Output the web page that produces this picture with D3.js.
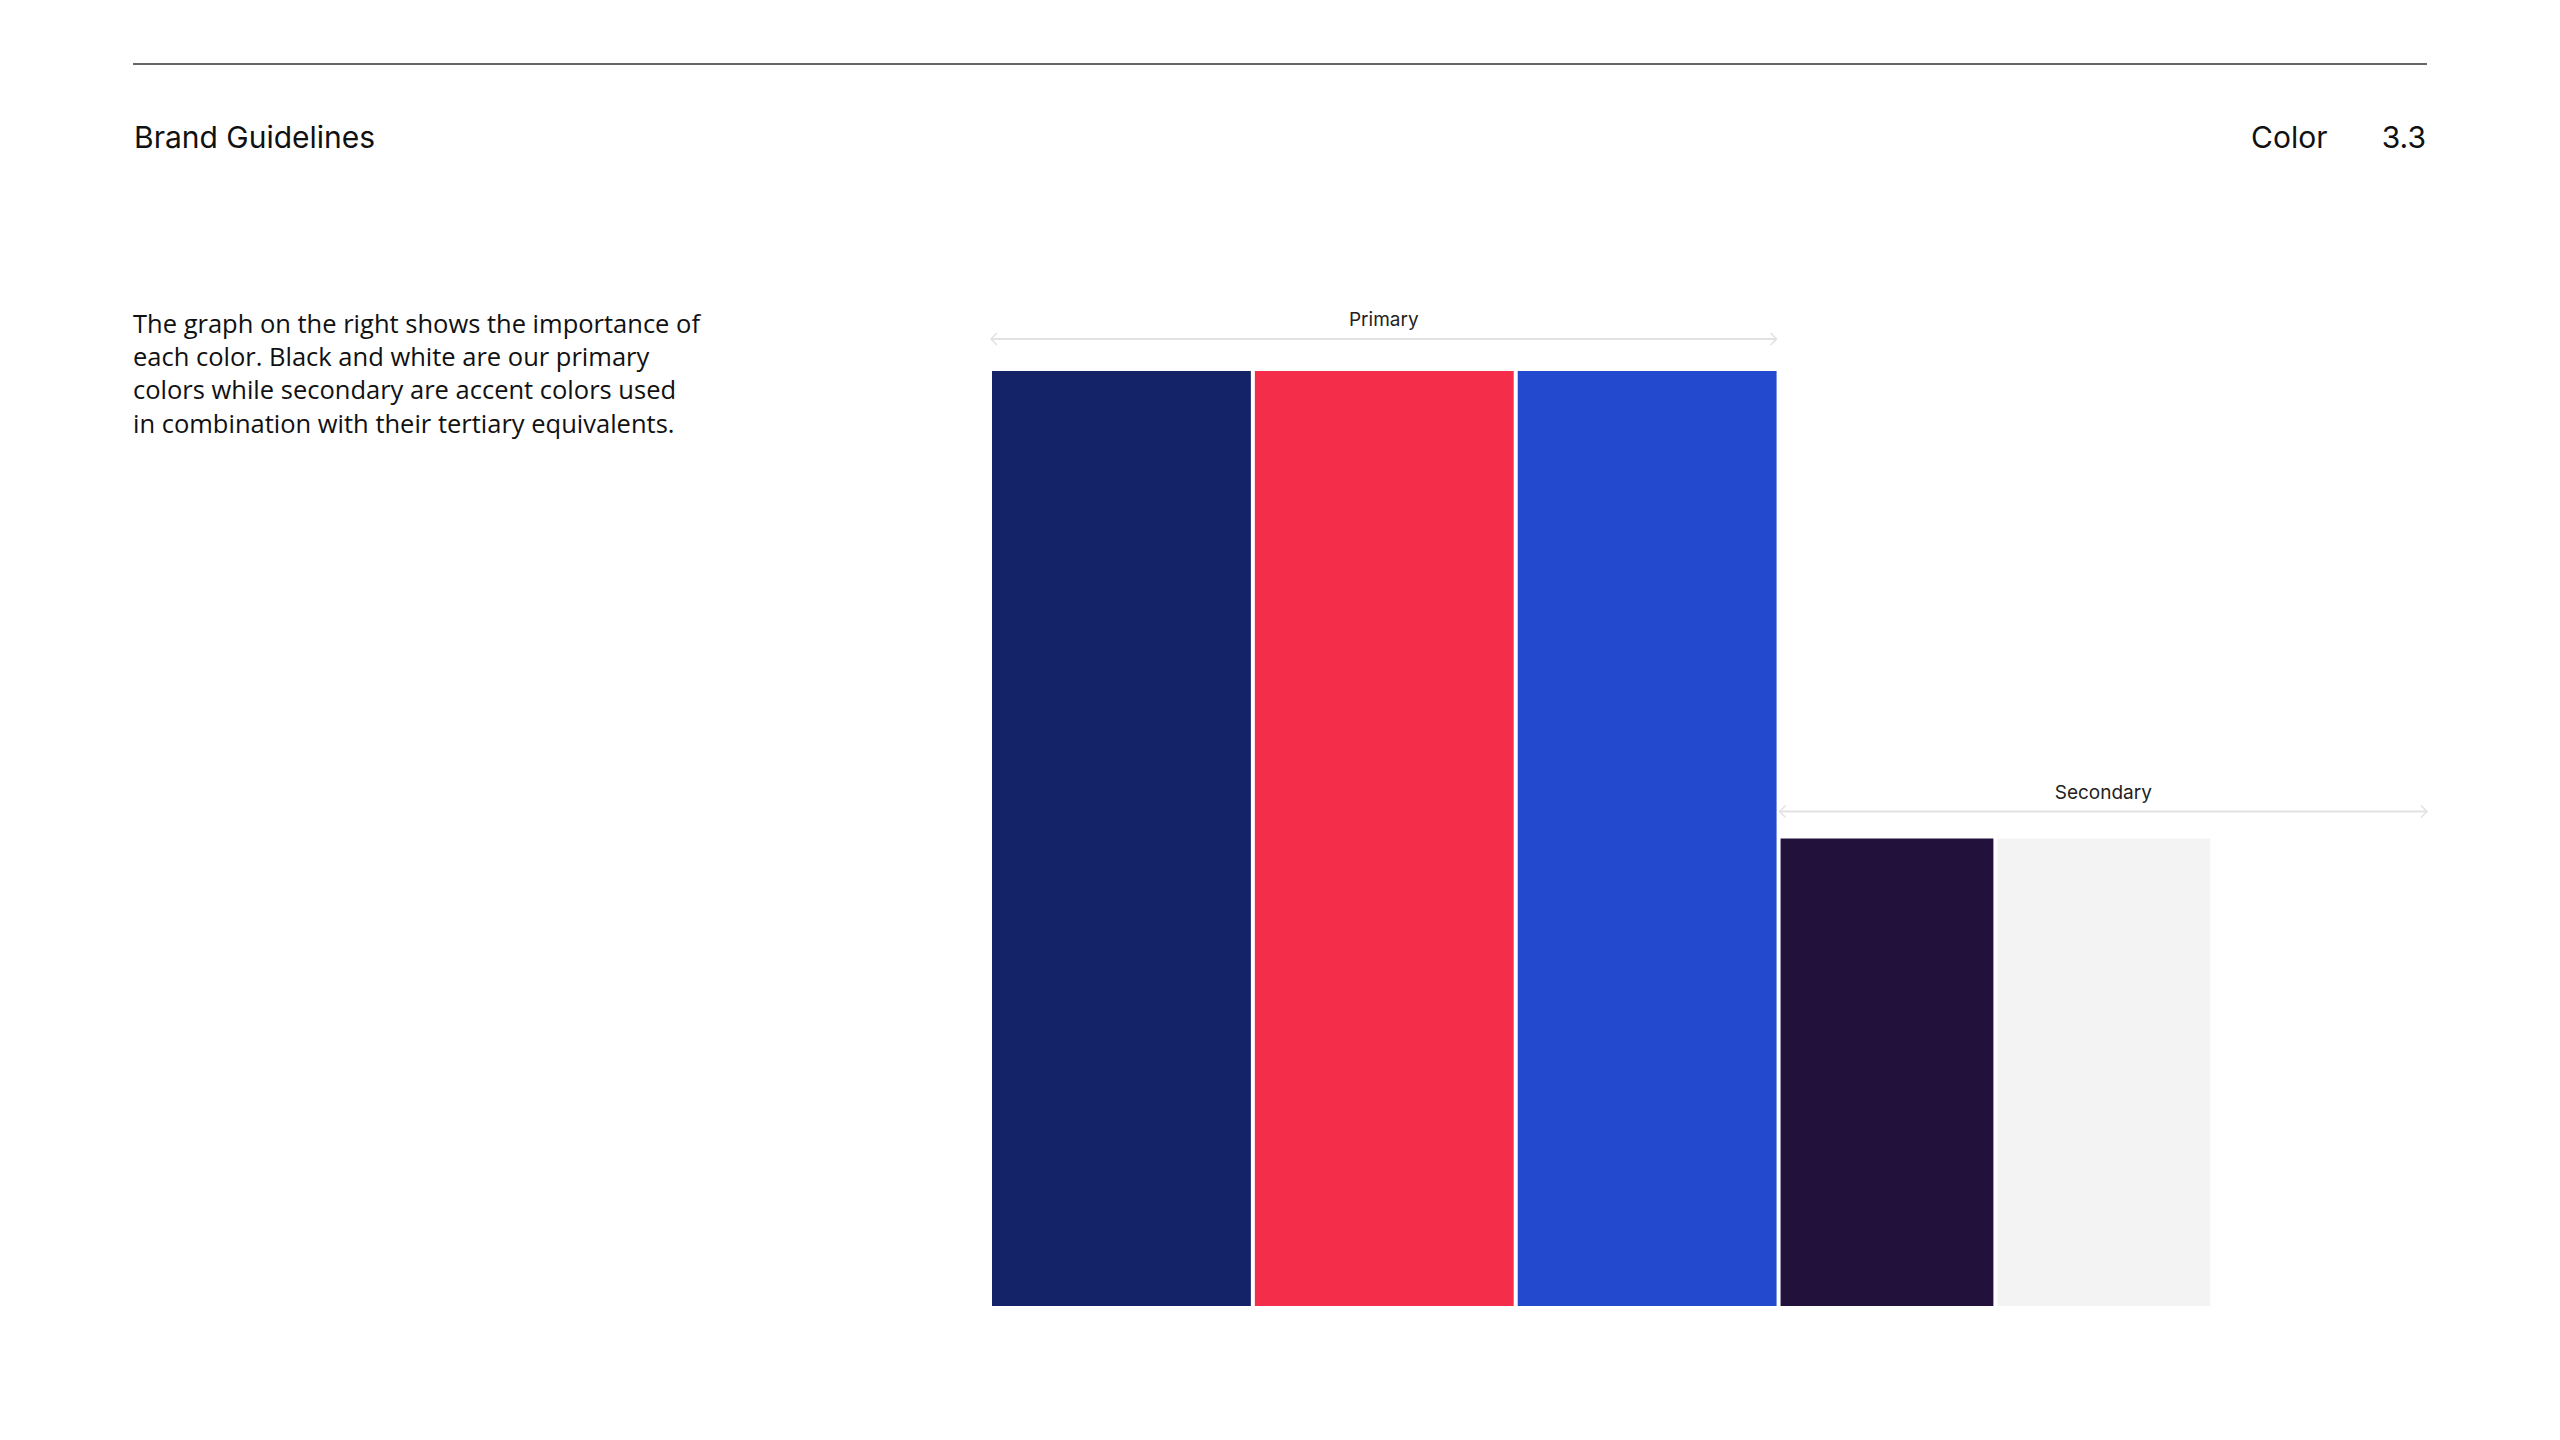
<!DOCTYPE html>
<html>
<head>
<meta charset="utf-8">
<script src="https://cdn.jsdelivr.net/npm/d3@7"></script>
<style>
  html, body { margin: 0; padding: 0; background: #fff; }
  svg { display: block; }
  .head { font-family: Inter, "Noto Sans", sans-serif; font-size: 30px; fill: #111; }
  .para { font-family: "Open Sans", "Noto Sans", sans-serif; font-size: 25.5px; fill: #111; }
  .glabel { font-family: Inter, "Noto Sans", sans-serif; font-size: 19px; fill: #222; }
</style>
</head>
<body>
<svg id="chart" width="2560" height="1440"></svg>
<script>
// data
const groups = ["Primary", "Secondary"];
const groupShare = [54.8, 45.2];
const barGroup = ["Primary", "Primary", "Primary", "Secondary", "Secondary", "Secondary"];
const barColor = ["#142368", "#F42E4A", "#2249CE", "#21113B", "#F3F3F3", "#FFFFFF"];
const barValue = [100, 100, 100, 50, 50, 50];
const paragraph = [
  "The graph on the right shows the importance of",
  "each color. Black and white are our primary",
  "colors while secondary are accent colors used",
  "in combination with their tertiary equivalents."
];

const svg = d3.select("#chart");

// header
svg.append("line")
  .attr("x1", 133).attr("x2", 2427)
  .attr("y1", 64).attr("y2", 64)
  .attr("stroke", "#666").attr("stroke-width", 2);

svg.append("text").attr("class", "head")
  .attr("x", 134).attr("y", 148).text("Brand Guidelines");
svg.append("text").attr("class", "head")
  .attr("x", 2251).attr("y", 148).text("Color");
svg.append("text").attr("class", "head")
  .attr("x", 2426).attr("y", 148).attr("text-anchor", "end").text("3.3");

// paragraph
svg.append("g").selectAll("text")
  .data(paragraph)
  .join("text")
  .attr("class", "para")
  .attr("x", 133)
  .attr("y", (d, i) => 333 + i * 33.2)
  .text(d => d);

// scales
const left = 990, right = 2429, gap = 4;
const cum = d3.cumsum(groupShare);
const x = d3.scaleLinear().domain([0, d3.sum(groupShare)]).range([left, right]);
const y = d3.scaleLinear().domain([0, 100]).range([1306, 371]);

const groupSpan = {};
groups.forEach((g, i) => {
  groupSpan[g] = [x(cum[i] - groupShare[i]), x(cum[i])];
});

const bars = barColor.map((c, i) => ({ group: barGroup[i], color: c, value: barValue[i] }));

groups.forEach(g => {
  const items = bars.filter(b => b.group === g);
  const band = d3.scaleBand()
    .domain(d3.range(items.length))
    .range(groupSpan[g]);
  items.forEach((b, j) => {
    b.x = band(j) + gap / 2;
    b.w = band.bandwidth() - gap;
  });
});

svg.append("g").selectAll("rect")
  .data(bars)
  .join("rect")
  .attr("x", d => d.x)
  .attr("width", d => d.w)
  .attr("y", d => y(d.value))
  .attr("height", d => y(0) - y(d.value))
  .attr("fill", d => d.color);

// group brackets
const bracket = svg.append("g");
groups.forEach((g, i) => {
  const items = bars.filter(b => b.group === g);
  const top = y(d3.max(items, b => b.value));
  const span = groupSpan[g];
  const x0 = span[0] + 1, x1 = span[1] - 2;
  const ly = top - (i === 0 ? 32 : 27);
  const c = "#e2e2e2";
  bracket.append("line")
    .attr("x1", x0).attr("x2", x1).attr("y1", ly).attr("y2", ly)
    .attr("stroke", c).attr("stroke-width", 2);
  bracket.append("path")
    .attr("d", `M${x0 + 6},${ly - 6}L${x0},${ly}L${x0 + 6},${ly + 6}`)
    .attr("fill", "none").attr("stroke", c).attr("stroke-width", 1.5);
  bracket.append("path")
    .attr("d", `M${x1 - 6},${ly - 6}L${x1},${ly}L${x1 - 6},${ly + 6}`)
    .attr("fill", "none").attr("stroke", c).attr("stroke-width", 1.5);
  bracket.append("text").attr("class", "glabel")
    .attr("x", (x0 + x1) / 2).attr("y", ly - 13)
    .attr("text-anchor", "middle")
    .text(g);
});
</script>
</body>
</html>
